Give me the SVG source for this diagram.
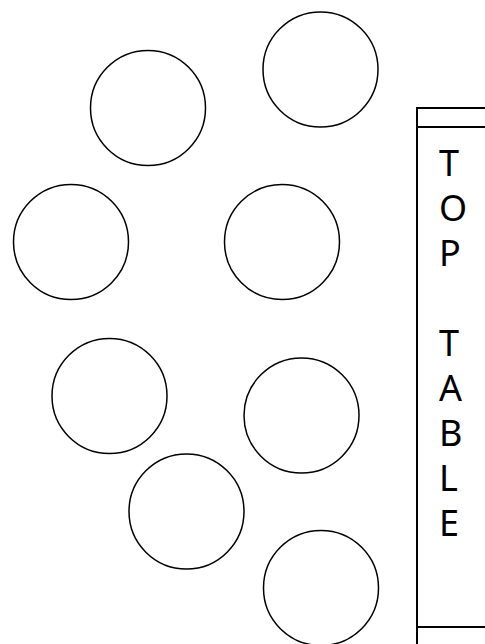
<svg xmlns="http://www.w3.org/2000/svg" width="485" height="644" viewBox="0 0 485 644">
<style>
.seat{fill:#fff;stroke:#000;stroke-width:1.5}
.tbl{fill:#fff;stroke:#000;stroke-width:2}
.lbl{font-family:"Noto Sans","Open Sans","DejaVu Sans",sans-serif;font-size:36px;fill:#000}
</style>
<rect width="485" height="644" fill="#fff"/>
<g id="t1"><circle class="seat" cx="148" cy="108" r="57.5"/></g>
<g id="t2"><circle class="seat" cx="320.5" cy="69.5" r="57.5"/></g>
<g id="t3"><circle class="seat" cx="71" cy="242" r="57.5"/></g>
<g id="t4"><circle class="seat" cx="282" cy="242" r="57.5"/></g>
<g id="t5"><circle class="seat" cx="109.5" cy="396" r="57.5"/></g>
<g id="t6"><circle class="seat" cx="301.5" cy="415.5" r="57.5"/></g>
<g id="t7"><circle class="seat" cx="186.5" cy="511.5" r="57.5"/></g>
<g id="t8"><circle class="seat" cx="321" cy="588" r="57.5"/></g>
<g id="top-table">
<rect class="tbl" x="417" y="108" width="80" height="540"/>
<line class="tbl" x1="417" y1="127" x2="497" y2="127"/>
<line class="tbl" x1="417" y1="627" x2="497" y2="627"/>
<text class="lbl" x="439"><tspan x="439" y="176">T</tspan><tspan x="439" y="221">O</tspan><tspan x="439" y="266">P</tspan><tspan x="439" y="356">T</tspan><tspan x="439" y="401">A</tspan><tspan x="439" y="446">B</tspan><tspan x="439" y="491">L</tspan><tspan x="439" y="536">E</tspan></text>
</g>
<g id="connectors"/>
</svg>
